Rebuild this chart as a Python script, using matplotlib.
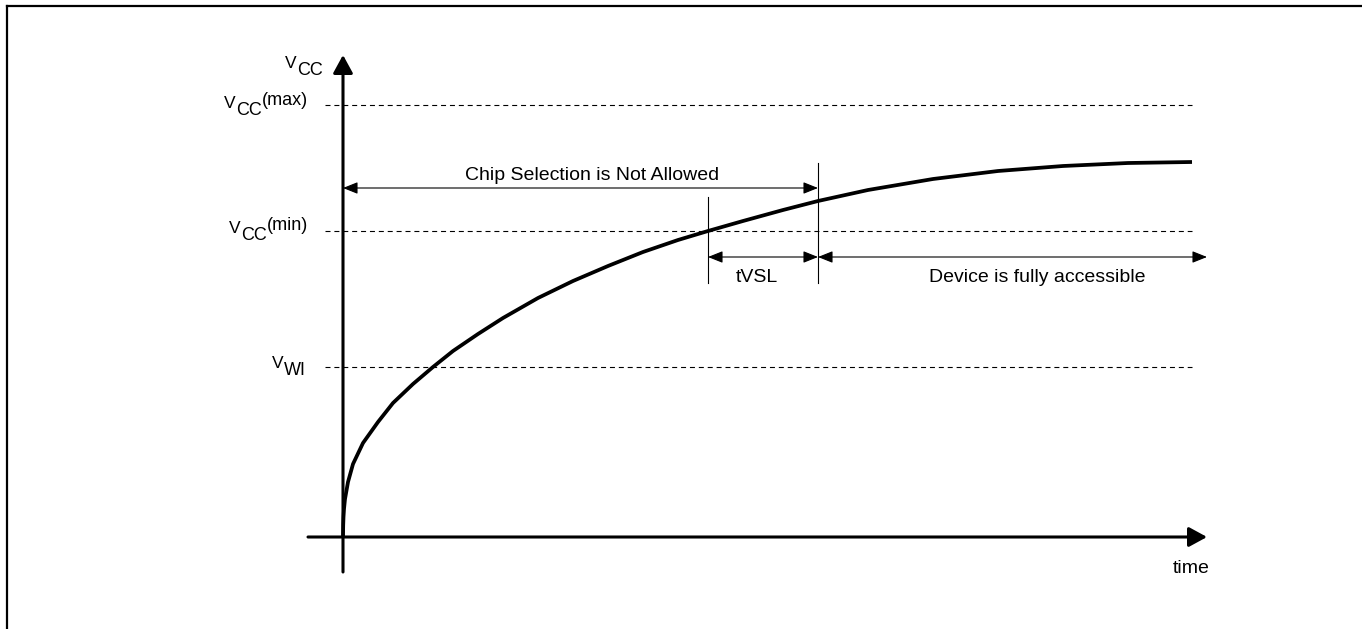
import matplotlib
matplotlib.use("Agg")
import matplotlib.pyplot as plt
from matplotlib.lines import Line2D

plt.rcParams['font.family'] = ['Liberation Sans', 'DejaVu Sans']

# supply ramp (time, voltage in arbitrary units)
t_curve = [0, 0.002, 0.005, 0.01, 0.02, 0.05, 0.10, 0.20, 0.35, 0.50, 0.70, 0.90,
           1.10, 1.35, 1.60, 1.95, 2.30, 2.65, 3.00, 3.35, 3.65, 4.00, 4.40, 4.75,
           5.25, 5.90, 6.55, 7.20, 7.85, 8.49]
v_curve = [0, 0.12, 0.20, 0.28, 0.38, 0.55, 0.73, 0.94, 1.15, 1.34, 1.53, 1.70,
           1.86, 2.03, 2.19, 2.39, 2.56, 2.71, 2.85, 2.97, 3.06, 3.16, 3.27, 3.36,
           3.47, 3.58, 3.66, 3.71, 3.74, 3.75]

# threshold levels
levels = {'max': 4.32, 'min': 3.06, 'wi': 1.70}
t_min = 3.65      # curve reaches Vcc(min)
t_ready = 4.75    # end of tVSL
t_end = 8.49
t_axis_end = 8.64
v_axis_end = 4.82

fig = plt.figure(figsize=(13.62, 6.29), dpi=100)
ax = fig.add_axes([0, 0, 1, 1])
ax.set_xlim(-3.43, 10.19)
ax.set_ylim(-0.92, 5.37)
ax.axis('off')

# frame (top and left only)
fig.add_artist(Line2D([7 / 1362, 1], [1 - 6 / 629] * 2, transform=fig.transFigure, color='k', lw=1.6))
fig.add_artist(Line2D([7 / 1362] * 2, [0, 1 - 6 / 629], transform=fig.transFigure, color='k', lw=1.6))

# dashed levels
for v in levels.values():
    ax.plot([-0.18, t_end], [v, v], color='k', lw=0.8, dashes=(4.5, 3.5))

# axes with arrow heads
axis_style = dict(arrowstyle='-|>,head_length=11,head_width=6', color='k', lw=2.2,
                  shrinkA=0, shrinkB=0, mutation_scale=1)
ax.annotate('', xy=(t_axis_end, 0), xytext=(-0.35, 0), arrowprops=axis_style)
ax.annotate('', xy=(0, v_axis_end), xytext=(0, -0.35), arrowprops=axis_style)

# ramp
ax.plot(t_curve, v_curve, color='k', lw=2.7, solid_capstyle='butt', solid_joinstyle='round')

# timing markers
ax.plot([t_min, t_min], [2.54, 3.40], color='k', lw=0.8)
ax.plot([t_ready, t_ready], [2.54, 3.74], color='k', lw=0.8)

dim_style = dict(arrowstyle='<|-|>,head_length=9,head_width=3.6', color='k', lw=0.8,
                 shrinkA=0, shrinkB=0, mutation_scale=1)
ax.annotate('', xy=(t_ready, 3.49), xytext=(0, 3.49), arrowprops=dim_style)
ax.annotate('', xy=(t_ready, 2.80), xytext=(t_min, 2.80), arrowprops=dim_style)
ax.annotate('', xy=(t_axis_end, 2.80), xytext=(t_ready, 2.80), arrowprops=dim_style)

fs = 14
ax.text(2.49, 3.57, 'Chip Selection is Not Allowed', ha='center', va='baseline', fontsize=fs)
ax.text(4.14, 2.55, 'tVSL', ha='center', va='baseline', fontsize=fs)
ax.text(6.94, 2.55, 'Device is fully accessible', ha='center', va='baseline', fontsize=fs)
ax.text(8.48, -0.36, 'time', ha='center', va='baseline', fontsize=fs)


def vlabel(x, y, sub, suffix=''):
    # right end at x, subscript baseline at y; V and suffix sit raised
    if suffix:
        last = ax.annotate(suffix, xy=(x, y), xytext=(0, 7), textcoords='offset points',
                           ha='right', va='baseline', fontsize=13)
        mid = ax.annotate(sub, xy=(0, 0), xycoords=last, xytext=(0, -7),
                          textcoords='offset points', ha='right', va='bottom', fontsize=13)
    else:
        mid = ax.annotate(sub, xy=(x, y), ha='right', va='baseline', fontsize=13)
    ax.annotate('V', xy=(0, 0), xycoords=mid, xytext=(-0.5, 5.5), textcoords='offset points',
                ha='right', va='bottom', fontsize=12.5)


vlabel(-0.20, 4.62, 'CC')
vlabel(-0.35, 4.22, 'CC', '(max)')
vlabel(-0.35, 2.97, 'CC', '(min)')
vlabel(-0.37, 1.62, 'WI')

fig.savefig('out.png', dpi=100)
